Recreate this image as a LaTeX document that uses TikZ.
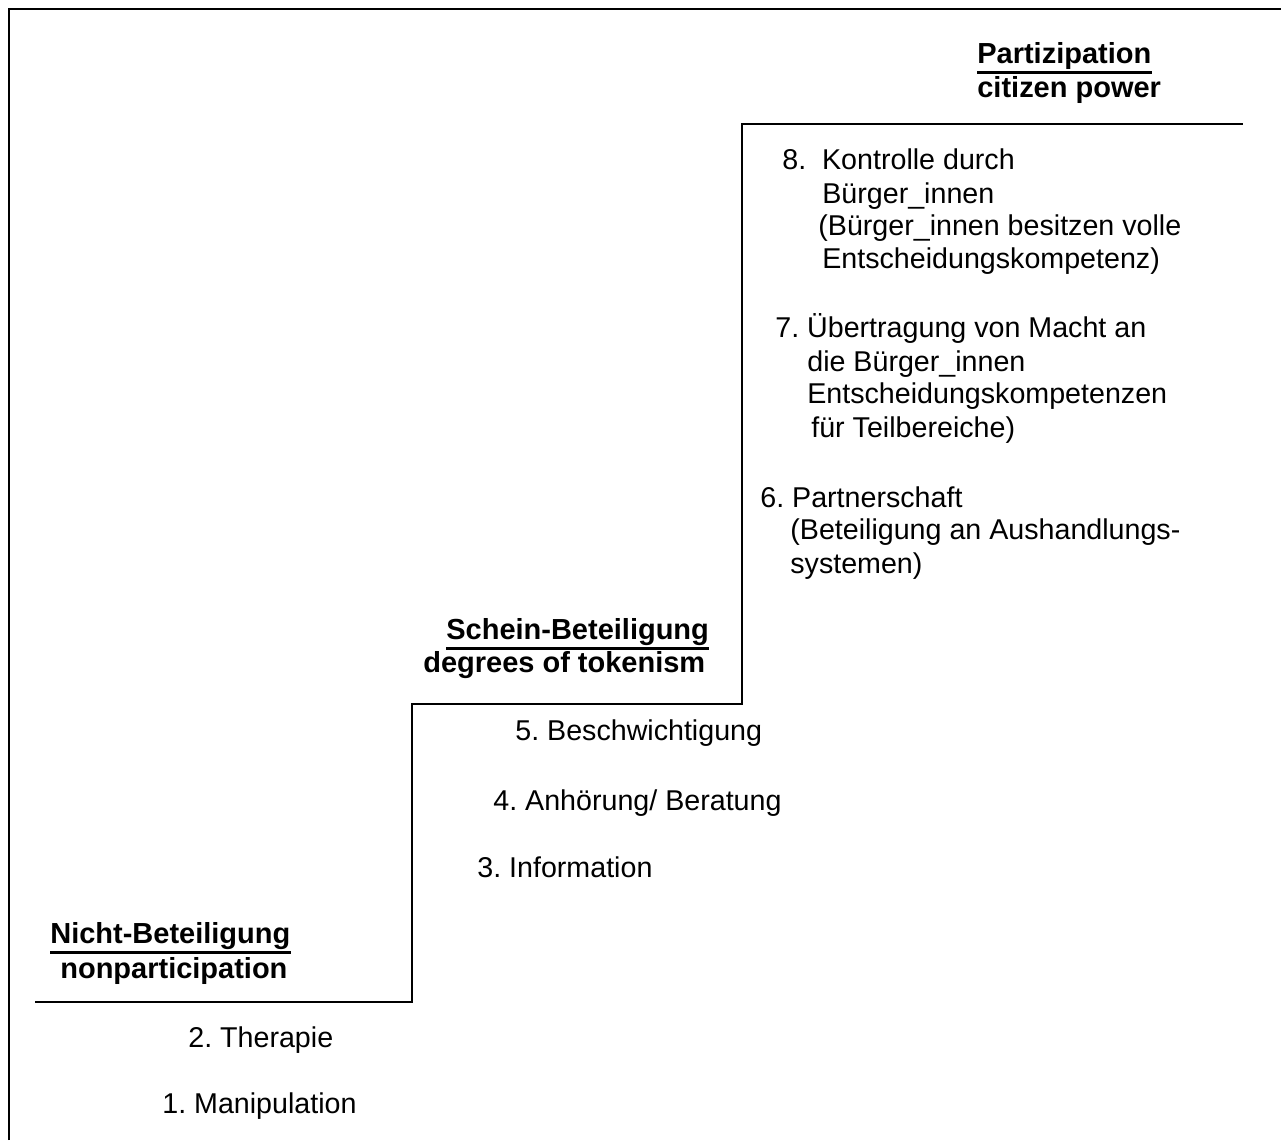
\documentclass[tikz,border=0pt]{standalone}
\usepackage{fontspec}
\setmainfont{Liberation Sans}
\frenchspacing
\tikzset{
  frame/.style={line width=1.3pt},
  stair/.style={line width=1.2pt},
  uline/.style={line width=1.8pt},
  lbl/.style={anchor=base west,inner sep=0pt,font=\fontsize{16.3}{19}\selectfont},
  head/.style={lbl,font=\fontsize{16.5}{19}\selectfont\bfseries}
}
\begin{document}
\begin{tikzpicture}[x=0.02cm,y=-0.02cm]
\useasboundingbox (0,0) rectangle (1281,1140);
\draw[frame] (9,1140)--(9,9)--(1281,9);
\draw[stair] (35,1002)--(412,1002)--(412,704)--(742,704)--(742,124)--(1243,124);
\node[head] (hpa) at (977,63){Partizipation};
\node[head] (hpb) at (977,97){citizen power};
\node[head] (hsa) at (446,639){Schein-Beteiligung};
\node[head] (hsb) at (423,672){degrees of tokenism};
\node[head] (hna) at (50,943){Nicht-Beteiligung};
\node[head] (hnb) at (60,978){nonparticipation};
\draw[uline] ([yshift=-5.4pt]hpa.base west)--([yshift=-5.4pt]hpa.base east);
\draw[uline] ([yshift=-5.4pt]hsa.base west)--([yshift=-5.4pt]hsa.base east);
\draw[uline] ([yshift=-5.4pt]hna.base west)--([yshift=-5.4pt]hna.base east);
\node[lbl] (s8a) at (782,169){8.\ \ Kontrolle durch};
\node[lbl] (s8b) at (822,203){Bürger\_innen};
\node[lbl] (s8c) at (818,235){(Bürger\_innen besitzen volle};
\node[lbl] (s8d) at (822,268){Entscheidungskompetenz)};
\node[lbl] (s7a) at (775,337){7. Übertragung von Macht an};
\node[lbl] (s7b) at (807,371){die Bürger\_innen};
\node[lbl] (s7c) at (807,403){Entscheidungskompetenzen};
\node[lbl] (s7d) at (811,437){für Teilbereiche)};
\node[lbl] (s6a) at (760,507){6. Partnerschaft};
\node[lbl] (s6b) at (790,539){(Beteiligung an Aushandlungs-};
\node[lbl] (s6c) at (790,573){systemen)};
\node[lbl] (s5) at (515,740){5. Beschwichtigung};
\node[lbl] (s4) at (493,810){4. Anhörung/ Beratung};
\node[lbl] (s3) at (477,877){3. Information};
\node[lbl] (s2) at (188,1047){2. Therapie};
\node[lbl] (s1) at (162,1113){1. Manipulation};
\end{tikzpicture}
\end{document}
